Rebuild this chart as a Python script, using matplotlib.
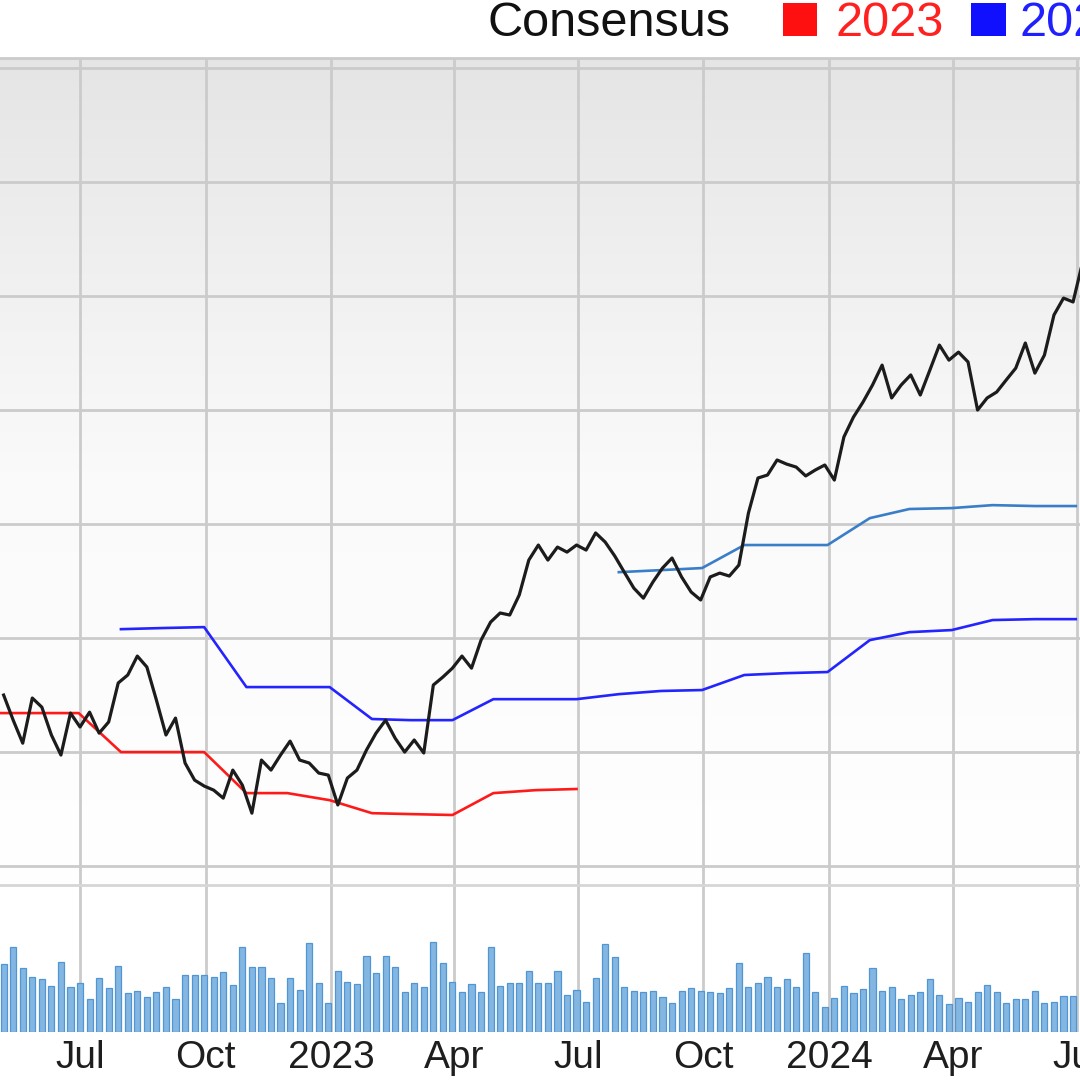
import matplotlib
matplotlib.use("Agg")
import matplotlib.pyplot as plt
import matplotlib.dates as mdates
from matplotlib.colors import LinearSegmentedColormap
from matplotlib.patches import Rectangle
from matplotlib.ticker import FuncFormatter
import numpy as np
import pandas as pd

# weekly closing price, one value per Friday starting 2022-05-06
price = [27.50, 26.40, 25.39, 27.37, 26.97, 25.75, 24.87, 26.71, 26.10, 26.75,
         25.83, 26.32, 28.03, 28.38, 29.21, 28.73, 27.28, 25.75, 26.49, 24.52,
         23.77, 23.51, 23.33, 22.98, 24.21, 23.55, 22.32, 24.65, 24.21, 24.87,
         25.48, 24.65, 24.52, 24.08, 23.99, 22.68, 23.86, 24.21, 25.09, 25.83,
         26.40, 25.61, 25.00, 25.53, 24.96, 27.94, 28.29, 28.68, 29.21, 28.68,
         29.91, 30.70, 31.10, 31.01, 31.89, 33.42, 34.08, 33.42, 33.99, 33.77,
         34.08, 33.86, 34.61, 34.21, 33.60, 32.89, 32.19, 31.75, 32.46, 33.07,
         33.51, 32.68, 32.02, 31.67, 32.68, 32.85, 32.72, 33.20, 35.48, 37.02,
         37.15, 37.81, 37.63, 37.50, 37.11, 37.37, 37.59, 36.93, 38.82, 39.69,
         40.35, 41.10, 41.97, 40.53, 41.10, 41.54, 40.66, 41.75, 42.85, 42.19,
         42.54, 42.11, 40.00, 40.53, 40.79, 41.32, 41.84, 42.94, 41.62, 42.41,
         44.17, 44.91, 44.74, 46.49]

# weekly volume (millions of shares)
volume = [6.8, 8.5, 6.4, 5.5, 5.3, 4.6, 7.0, 4.5, 4.9, 3.3,
          5.4, 4.4, 6.6, 3.9, 4.1, 3.5, 4.0, 4.5, 3.3, 5.7,
          5.7, 5.7, 5.5, 6.0, 4.7, 8.5, 6.5, 6.5, 5.4, 2.9,
          5.4, 4.2, 8.9, 4.9, 2.9, 6.1, 5.0, 4.8, 7.6, 5.9,
          7.6, 6.5, 4.0, 4.9, 4.5, 9.0, 6.9, 5.0, 4.0, 4.8,
          4.0, 8.5, 4.6, 4.9, 4.9, 6.1, 4.9, 4.9, 6.1, 3.7,
          4.2, 3.0, 5.4, 8.8, 7.5, 4.5, 4.1, 4.0, 4.1, 3.5,
          2.9, 4.1, 4.4, 4.1, 4.0, 3.9, 4.4, 6.9, 4.5, 4.9,
          5.5, 4.5, 5.3, 4.5, 7.9, 4.0, 2.5, 3.4, 4.6, 3.9,
          4.3, 6.4, 4.1, 4.5, 3.3, 3.7, 4.0, 5.3, 3.7, 2.8,
          3.4, 3.0, 4.0, 4.7, 4.0, 2.9, 3.3, 3.3, 4.1, 2.9,
          3.0, 3.6, 3.6]

# monthly consensus estimates (month end values)
cons_2023_start = '2022-04-30'
cons_2023 = [26.71, 26.71, 26.71, 25.00, 25.00, 25.00, 23.20, 23.20, 22.89, 22.32,
             22.28, 22.24, 23.20, 23.33, 23.38]
cons_2024_start = '2022-07-31'
cons_2024 = [30.39, 30.44, 30.48, 27.85, 27.85, 27.85, 26.45, 26.40, 26.40, 27.32,
             27.32, 27.32, 27.54, 27.68, 27.72, 28.38, 28.46, 28.51, 29.91, 30.26,
             30.35, 30.79, 30.83, 30.83]
cons_2025_start = '2023-07-31'
cons_2025 = [32.89, 32.98, 33.07, 34.08, 34.08, 34.08, 35.26, 35.66, 35.70, 35.83,
             35.79, 35.79]

legend_labels = ['2023', '2024']

plt.rcParams['font.family'] = ['Liberation Sans', 'DejaVu Sans']


def month_ends(start, n):
    return pd.date_range(start, periods=n, freq=pd.offsets.MonthEnd())


week_dates = pd.date_range('2022-05-06', periods=len(price), freq='7D')
vol_dates = week_dates[:len(volume)]

H = 1080
GRID = '#cbcbcb'
fig = plt.figure(figsize=(10.8, 10.8), dpi=100)
fig.patch.set_facecolor('white')

price_rect = [0, 1 - 885 / H, 1, (885 - 58) / H]
bg = fig.add_axes(price_rect, zorder=0)
grad = np.linspace(0, 1, 256).reshape(-1, 1)
cmap = LinearSegmentedColormap.from_list('bg', ['#e5e5e5', '#fafafa', '#ffffff'])
bg.imshow(grad, cmap=cmap, aspect='auto', extent=[0, 1, 0, 1])
bg.axis('off')

ax = fig.add_axes(price_rect, zorder=1)
ax.patch.set_alpha(0)
axv = fig.add_axes([0, 1 - 1032 / H, 1, (1032 - 885) / H], sharex=ax, zorder=1)
axv.patch.set_alpha(0)

# price and consensus lines
ax.plot(month_ends(cons_2023_start, len(cons_2023)), cons_2023, color='#ff1a1a', lw=1.9, zorder=3)
ax.plot(month_ends(cons_2024_start, len(cons_2024)), cons_2024, color='#2424ff', lw=1.9, zorder=3)
ax.plot(month_ends(cons_2025_start, len(cons_2025)), cons_2025, color='#3b7ec8', lw=1.9, zorder=3)
ax.plot(week_dates, price, color='#1c1c1c', lw=2.3, zorder=4, solid_joinstyle='round')

ax.set_xlim(pd.Timestamp('2022-05-03 08:00'), pd.Timestamp('2024-07-03 02:00'))
ax.set_ylim(19.17, 55.44)
ax.set_yticks(np.arange(20, 56, 5))
ax.grid(True, color=GRID, lw=2.0)
ax.set_axisbelow(True)
ax.tick_params(left=False, labelleft=False, bottom=False, labelbottom=False)
for side in ['left', 'right', 'bottom']:
    ax.spines[side].set_visible(False)
ax.spines['top'].set_color(GRID)
ax.spines['top'].set_linewidth(2.0)

# volume pane
axv.bar(vol_dates, volume, width=4.5, color='#84b6e2', edgecolor='#5196d4', lw=0.9, zorder=3)
axv.set_ylim(0, 14.7)
axv.set_yticks([])
axv.grid(True, axis='x', color=GRID, lw=2.0)
axv.set_axisbelow(True)
for side in ['left', 'right', 'bottom']:
    axv.spines[side].set_visible(False)
axv.spines['top'].set_color('#d6d6d6')
axv.spines['top'].set_linewidth(2.0)

axv.xaxis.set_major_locator(mdates.MonthLocator(bymonth=[1, 4, 7, 10]))


def fmt(x, pos):
    d = mdates.num2date(x)
    return str(d.year) if d.month == 1 else d.strftime('%b')


axv.xaxis.set_major_formatter(FuncFormatter(fmt))
axv.tick_params(axis='x', length=0, pad=6, labelsize=28, labelcolor='#1e1e1e')

# legend across the top
base = 1 - 36 / H
fig.text(730 / H, base, 'Consensus', ha='right', va='baseline', fontsize=35, color='#111111')
fig.patches.append(Rectangle((783 / H, 1 - 36 / H), 34 / H, 33 / H, transform=fig.transFigure,
                             facecolor='#ff1010', edgecolor='none', figure=fig))
fig.text(835 / H, base, legend_labels[0], ha='left', va='baseline', fontsize=35, color='#ff2020')
fig.patches.append(Rectangle((971 / H, 1 - 36 / H), 35 / H, 33 / H, transform=fig.transFigure,
                             facecolor='#1010ff', edgecolor='none', figure=fig))
fig.text(1020 / H, base, legend_labels[1], ha='left', va='baseline', fontsize=35, color='#2020ff')

fig.savefig('out.png', dpi=100)
